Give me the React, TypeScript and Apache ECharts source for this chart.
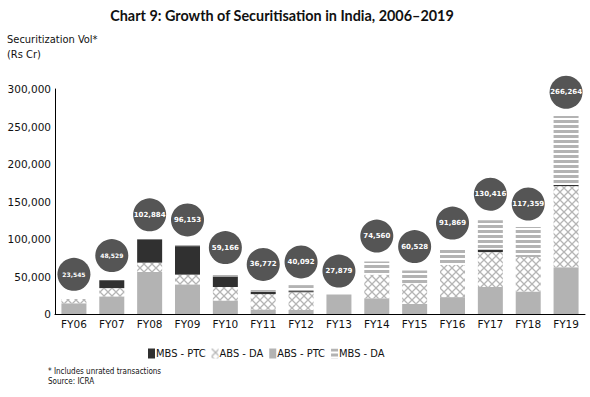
import React, { useEffect, useRef } from "react";
import * as echarts from "echarts";

const categories = ["FY06", "FY07", "FY08", "FY09", "FY10", "FY11", "FY12", "FY13", "FY14", "FY15", "FY16", "FY17", "FY18", "FY19"];
const absPtc = [14500, 23500, 56000, 39500, 18000, 6000, 5500, 26000, 21000, 13500, 22500, 36000, 30000, 62500];
const absDa = [5500, 11000, 12500, 13000, 18000, 20500, 23500, 0, 31500, 27000, 43000, 46500, 46000, 108000];
const mbsPtc = [0, 10500, 31000, 38000, 14000, 3000, 1500, 0, 0, 0, 0, 3500, 0, 1500];
const mbsDa = [0, 0, 0, 3500, 4000, 2500, 8000, 0, 17500, 17500, 20500, 39000, 40000, 92000];
const totals = [23545, 48529, 102884, 96153, 59166, 36772, 40092, 27879, 74560, 60528, 91869, 130416, 117359, 266264];
const legendNames = ["MBS - PTC", "ABS - DA", "ABS - PTC", "MBS - DA"];

const fmt = (v: number) => v.toLocaleString("en-US");
const SANS = '"DejaVu Sans", Verdana, sans-serif';
const COND = 'Tahoma, "DejaVu Sans Condensed", "Liberation Sans", sans-serif';

function crossPattern() {
  const c = document.createElement("canvas");
  c.width = 8;
  c.height = 8;
  const ctx = c.getContext("2d")!;
  ctx.fillStyle = "#ffffff";
  ctx.fillRect(0, 0, 8, 8);
  ctx.strokeStyle = "#b5b5b5";
  ctx.lineWidth = 1.3;
  ctx.beginPath();
  ctx.moveTo(0, 0);
  ctx.lineTo(8, 8);
  ctx.moveTo(8, 0);
  ctx.lineTo(0, 8);
  ctx.stroke();
  return { image: c, repeat: "repeat", imageWidth: 8, imageHeight: 8 };
}

function stripePattern() {
  const c = document.createElement("canvas");
  c.width = 4;
  c.height = 5;
  const ctx = c.getContext("2d")!;
  ctx.fillStyle = "#ffffff";
  ctx.fillRect(0, 0, 4, 5);
  ctx.fillStyle = "#b3b3b3";
  ctx.fillRect(0, 0, 4, 3);
  return { image: c, repeat: "repeat", imageWidth: 4, imageHeight: 5 };
}

export default function App() {
  const ref = useRef<HTMLDivElement>(null);
  useEffect(() => {
    if (!ref.current) return;
    const chart = echarts.init(ref.current, undefined, { renderer: "svg" });
    const cross = crossPattern();
    const stripes = stripePattern();
    const barBase = { type: "bar", stack: "total", barWidth: 25 };
    chart.setOption({
      animation: false,
      backgroundColor: "#ffffff",
      title: {
        text: "Chart 9: Growth of Securitisation in India, 2006–2019",
        left: 277,
        textAlign: "center",
        top: 3,
        textStyle: { fontFamily: "Lato", fontWeight: "bold", fontSize: 14.4, color: "#111" },
      },
      grid: { left: 55, right: 5, top: 89, bottom: 83, containLabel: false },
      legend: {
        data: legendNames,
        left: 143,
        top: 343,
        itemWidth: 7,
        itemHeight: 10,
        itemGap: 6,
        icon: "rect",
        textStyle: { fontFamily: COND, fontSize: 11, color: "#111", padding: [0, 0, 0, -4] },
      },
      xAxis: {
        type: "category",
        data: categories,
        axisLine: { lineStyle: { color: "#000", width: 1 } },
        axisTick: { show: false },
        axisLabel: { fontFamily: SANS, fontSize: 10.5, color: "#111", margin: 4 },
      },
      yAxis: {
        type: "value",
        min: 0,
        max: 300000,
        interval: 50000,
        axisLine: { show: true, lineStyle: { color: "#000", width: 1 } },
        axisTick: { show: false },
        splitLine: { show: false },
        axisLabel: { fontFamily: SANS, fontSize: 10.5, color: "#111", margin: 4, formatter: (v: number) => fmt(v) },
      },
      graphic: [
        { type: "text", left: 7, top: 34, style: { text: "Securitization Vol*", fontFamily: COND, fontSize: 11, fill: "#111" } },
        { type: "text", left: 7, top: 49, style: { text: "(Rs Cr)", fontFamily: COND, fontSize: 11, fill: "#111" } },
        { type: "text", left: 48, top: 367, style: { text: "* Includes unrated transactions", fontFamily: COND, fontSize: 8, fill: "#111" } },
        { type: "text", left: 48, top: 377, style: { text: "Source: ICRA", fontFamily: COND, fontSize: 8, fill: "#111" } },
      ],
      series: [
        { ...barBase, name: "ABS - PTC", data: absPtc, itemStyle: { color: "#b3b3b3" } },
        { ...barBase, name: "ABS - DA", data: absDa, itemStyle: { color: cross } },
        { ...barBase, name: "MBS - PTC", data: mbsPtc, itemStyle: { color: "#303030" } },
        { ...barBase, name: "MBS - DA", data: mbsDa, itemStyle: { color: stripes } },
        {
          type: "scatter",
          name: "Total",
          data: totals.map((v, i) => ({
            value: v,
            label: i < 2 ? { fontSize: 6 } : undefined,
          })),
          symbol: "circle",
          symbolSize: 33,
          symbolOffset: [0, -22],
          itemStyle: { color: "#555555", opacity: 1 },
          label: {
            show: true,
            position: "inside",
            formatter: (p: any) => fmt(p.value),
            color: "#ffffff",
            fontWeight: "bold",
            fontFamily: SANS,
            fontSize: 7,
          },
          z: 5,
        },
      ],
    });
    return () => chart.dispose();
  }, []);
  return <div ref={ref} style={{ position: "fixed", left: 0, top: 0, width: 590, height: 397 }} />;
}
